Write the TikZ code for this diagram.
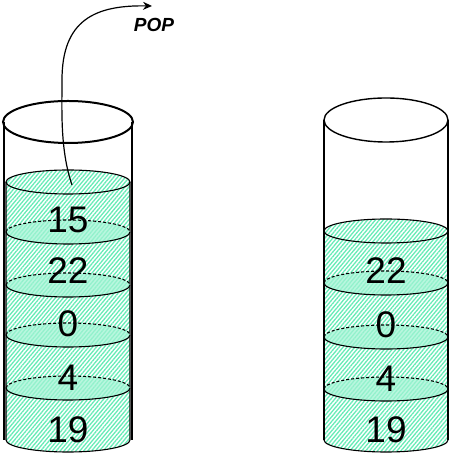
\documentclass[tikz,border=0pt]{standalone}
\usepackage{fontspec}
\setmainfont{Liberation Sans}
\usetikzlibrary{patterns.meta,arrows.meta}
\definecolor{hatchc}{HTML}{66EBB6}
\definecolor{capc}{HTML}{A2F4D4}
\tikzset{
  glass/.style={line width=1.2pt},
  seg/.style={line width=1.1pt},
  num/.style={font=\fontsize{37}{37}\selectfont, inner sep=0pt},
  hatchfill/.style={pattern={Lines[angle=50,distance=3pt,line width=1.3pt]},pattern color=hatchc},
  capr/.style={x radius=62pt,y radius=12pt},
}
\newcommand\tubebound[2]{%
  \fill[capc,opacity=.75] (#1,#2) ellipse[capr];
  \draw[seg,dash pattern=on 3pt off 2pt] (#1-62,#2) arc[start angle=180,end angle=0,capr];
  \draw[seg] (#1-62,#2) arc[start angle=180,end angle=360,capr];
}
\newcommand\tubegreen[3]{% cx, top Y, bottom Y
  \fill[hatchfill] (#1-62,#2) -- (#1-62,#3) arc[start angle=180,end angle=360,capr] -- (#1+62,#2) arc[start angle=0,end angle=180,capr] -- cycle;
  \draw[seg] (#1-62,#2) -- (#1-62,#3) arc[start angle=180,end angle=360,capr] -- (#1+62,#2);
  \draw[seg] (#1,#2) ellipse[capr];
}
\begin{document}
\begin{tikzpicture}[x=1pt,y=1pt]
\useasboundingbox (0,0) rectangle (453,462);
% left tube
\tubegreen{68}{280}{22}
\tubebound{68}{230}
\tubebound{68}{177}
\tubebound{68}{127}
\tubebound{68}{74}
\draw[glass] (4,340) -- (4,22);
\draw[glass] (132,340) -- (132,22);
\draw[line width=2pt] (68,340) ellipse[x radius=65pt,y radius=21pt];
\node[num] (l15) at (68,242) {15};
\node[num] (l22) at (68,191) {22};
\node[num] (l0) at (68,138) {0};
\node[num] (l4) at (68,84) {4};
\node[num] (l19) at (68,32) {19};
% right tube
\tubegreen{386}{231}{22}
\tubebound{386}{179}
\tubebound{386}{125}
\tubebound{386}{73}
\draw[glass] (324,342) -- (324,22);
\draw[glass] (448,342) -- (448,22);
\draw[line width=1.4pt] (386,342) ellipse[x radius=62pt,y radius=22pt];
\node[num] (r22) at (386,191) {22};
\node[num] (r0) at (386,137) {0};
\node[num] (r4) at (386,83) {4};
\node[num] (r19) at (386,32) {19};
% pop arrow
\node[font=\fontsize{19}{19}\selectfont\bfseries\itshape, inner sep=0pt] (pop) at (154,437) {POP};
\coordinate (popstart) at (72,277);
\coordinate (popend) at (152,456);
\draw[line width=1.2pt,-{Stealth[length=9pt,width=8pt]}] (popstart) .. controls (60,312) and (62,352) .. (62,382) .. controls (62,442) and (95,457) .. (popend);
\end{tikzpicture}
\end{document}
